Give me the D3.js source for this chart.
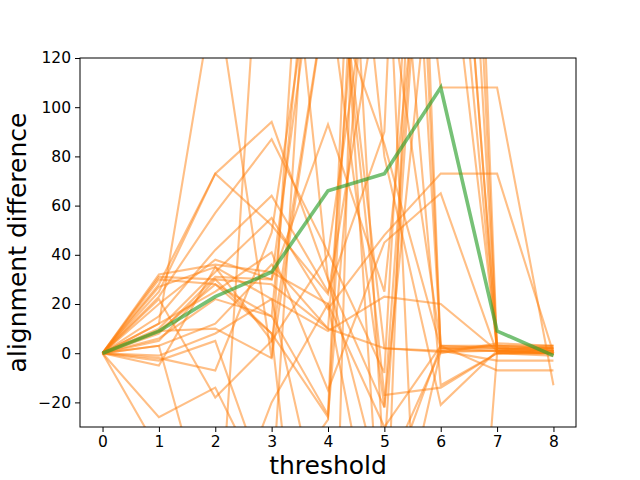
<!DOCTYPE html>
<html><head><meta charset="utf-8">
<script src="https://cdn.jsdelivr.net/npm/d3@7"></script>
<style>body{margin:0;background:#fff}</style>
</head><body>
<script>
const thresholds = [0,1,2,3,4,5,6,7,8];
const xTicks = [0,1,2,3,4,5,6,7,8];
const yTicks = [-20,0,20,40,60,80,100,120];
const meanSeries = [0, 9, 23, 33, 66, 73, 108, 9, -1];
const runs = [
  [0, 32, 36, 33, 20, -30, 3, 2, 1],
  [0, 31, 30, 28, 10, 2, 0.5, 1, 0],
  [0, 28, 73, 52, 24, 160, 3, 3, 2],
  [0, 25, 73, 94, 30, -22, 300, 1, 1],
  [0, 23, 57, 87, 41, -8, 400, 2, 2],
  [0, 20, 38, 30, 93, 25, 250, 0, 0],
  [0, 15, 42, 64, 25, 90, 600, 1, 0],
  [0, 12, 25, 41, -15, 45, 65, 0, 1],
  [0, 10, 33, 55, 18, 48, 73, 73, 0],
  [0, 9, 10, -2, 150, 85, 2, 3, 3],
  [0, 8, 31, 30, 200, -17, -14, 0, -1],
  [0, 6, 22, 15, -25, 500, 2, 2, 2],
  [0, 3, 12, 36, 10, 300, 108, 108, -13],
  [0, -1, 8, 22, 9, 23, 20, 1, 1],
  [0, -2, -7, 49, 200, 2, 1, 3, 2],
  [0, -3, 5, -60, -27, 400, 2, 1, 0],
  [0, -5, 35, 5, 150, -22, 200, 2, 1],
  [0, -26, -14, -60, 300, 80, -21, 1, 0],
  [0, -40, -100, 250, 30, -60, 3, -7, -7],
  [0, 30, 28, 15, 250, -100, 1, 1, 3],
  [0, 27, 35, 22, -80, -40, 300, 2, 1],
  [0, 22, -18, 5, 40, 200, -300, 0, 0],
  [0, 12, 150, -2, 350, -50, 1, -3, -3],
  [0, 5, 30, 8, -200, 600, 0, 4, 3],
  [0, 3, -80, -20, 20, -100, 500, 0, 2],
  [0, 9, 28, 8, -26, 250, -13, 0, 0]
];

const W = 640, H = 480;
const m = {l: 80, r: 64, t: 58, b: 53};
const svg = d3.select("body").append("svg").attr("width", W).attr("height", H)
  .style("font-family", "DejaVu Sans");
const x = d3.scaleLinear().domain([-0.4, 8.4]).range([m.l, W - m.r]);
const y = d3.scaleLinear().domain([-30, 120]).range([H - m.b, m.t]);

svg.append("defs").append("clipPath").attr("id", "clip")
  .append("rect").attr("x", m.l).attr("y", m.t)
  .attr("width", W - m.l - m.r).attr("height", H - m.t - m.b);

const line = d3.line().x((d, i) => x(thresholds[i])).y(d => y(d));
const g = svg.append("g").attr("clip-path", "url(#clip)");
g.selectAll("path.run").data(runs).enter().append("path")
  .attr("d", line).attr("fill", "none")
  .attr("stroke", "#ff7f0e").attr("stroke-opacity", 0.5).attr("stroke-width", 2.1)
  .attr("stroke-linejoin", "miter");
g.append("path").datum(meanSeries).attr("d", line).attr("fill", "none")
  .attr("stroke", "#2ca02c").attr("stroke-opacity", 0.65).attr("stroke-width", 3.6);

const xa = svg.append("g").attr("transform", `translate(0,${H - m.b})`)
  .call(d3.axisBottom(x).tickValues(xTicks).tickSize(5).tickPadding(4));
const ya = svg.append("g").attr("transform", `translate(${m.l},0)`)
  .call(d3.axisLeft(y).tickValues(yTicks).tickSize(5).tickPadding(4));
[xa, ya].forEach(a => {
  a.select(".domain").remove();
  a.selectAll("text").attr("font-size", 15.5).attr("font-family", "DejaVu Sans").attr("fill", "#000");
  a.selectAll("line").attr("stroke", "#000").attr("stroke-width", 1);
});
svg.append("rect").attr("x", m.l).attr("y", m.t)
  .attr("width", W - m.l - m.r).attr("height", H - m.t - m.b)
  .attr("fill", "none").attr("stroke", "#000").attr("stroke-width", 1);

svg.append("text").attr("x", (m.l + W - m.r) / 2).attr("y", 474)
  .attr("text-anchor", "middle").attr("font-size", 25).text("threshold");
svg.append("text").attr("transform", `translate(26,${(m.t + H - m.b) / 2}) rotate(-90)`)
  .attr("text-anchor", "middle").attr("font-size", 25).text("alignment difference");
</script>
</body></html>
